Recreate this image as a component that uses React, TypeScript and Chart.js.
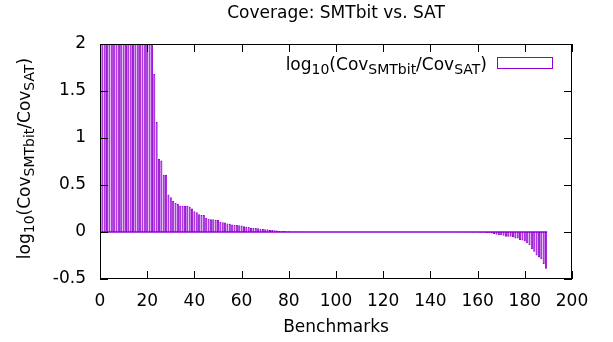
import React, { useEffect, useRef } from "react";
import { Chart, registerables } from "chart.js";

Chart.register(...registerables);

// log10(Cov_SMTbit / Cov_SAT) per benchmark (sorted, descending). Values > 2 are clipped in the plot.
const coverageLog: number[] = [
  3, 3, 3, 3, 3, 3, 3, 3, 3, 3,
  3, 3, 3, 3, 3, 3, 3, 3, 3, 3,
  3, 3, 1.68, 1.17, 0.78, 0.76, 0.61, 0.61, 0.40, 0.37,
  0.33, 0.31, 0.30, 0.28, 0.28, 0.28, 0.28, 0.27, 0.25, 0.22,
  0.21, 0.19, 0.18, 0.18, 0.15, 0.14, 0.135, 0.135, 0.13, 0.13,
  0.11, 0.105, 0.10, 0.09, 0.088, 0.08, 0.075, 0.075, 0.073, 0.07,
  0.06, 0.057, 0.055, 0.045, 0.043, 0.042, 0.04, 0.033, 0.032, 0.03,
  0.028, 0.022, 0.02, 0.018, 0.015, 0.012, 0.01, 0.01, 0.008, 0.007,
  0.006, 0.005, 0.005, 0.004, 0.004, 0.003, 0.003, 0.003, 0.002, 0.002,
  0.002, 0.002, 0.001, 0.001, 0.001, 0.001, 0.001, 0.001, 0.001, 0.001,
  0, 0, 0, 0, 0, 0, 0, 0, 0, 0,
  0, 0, 0, 0, 0, 0, 0, 0, 0, 0,
  0, 0, 0, 0, 0, 0, 0, 0, 0, 0,
  0, 0, 0, 0, 0, 0, 0, 0, 0, 0,
  0, 0, 0, 0, 0, 0, 0, 0, 0, -0.001, -0.001,
  -0.002, -0.002, -0.003, -0.003, -0.004, -0.004, -0.005, -0.005, -0.006, -0.007,
  -0.008, -0.009, -0.01, -0.012, -0.015, -0.02, -0.03, -0.035, -0.035, -0.04,
  -0.05, -0.05, -0.05, -0.055, -0.07, -0.07, -0.085, -0.09, -0.10, -0.12,
  -0.14, -0.18, -0.21, -0.25, -0.27, -0.29, -0.34, -0.39,
];

const xTicks: number[] = [0, 20, 40, 60, 80, 100, 120, 140, 160, 180, 200];
const yTicks: number[] = [-0.5, 0, 0.5, 1, 1.5, 2];

const chartTitle = "Coverage: SMTbit vs. SAT";
const xTitle = "Benchmarks";
type Seg = { t: string; sub?: boolean };
const seriesLabel: Seg[] = [
  { t: "log" },
  { t: "10", sub: true },
  { t: "(Cov" },
  { t: "SMTbit", sub: true },
  { t: "/Cov" },
  { t: "SAT", sub: true },
  { t: ")" },
];

const FAMILY = '"DejaVu Sans", sans-serif';
const MAIN = 17;
const SUB = 14;
const SUBSHIFT = 4;
const PURPLE = "#9400D3";

function drawRich(ctx: CanvasRenderingContext2D, segs: Seg[], x: number, y: number, align: "left" | "right" | "center") {
  const widths = segs.map((s) => {
    ctx.font = `${s.sub ? SUB : MAIN}px ${FAMILY}`;
    return ctx.measureText(s.t).width;
  });
  const total = widths.reduce((a, b) => a + b, 0);
  let cx = align === "right" ? x - total : align === "center" ? x - total / 2 : x;
  ctx.textAlign = "left";
  ctx.textBaseline = "alphabetic";
  segs.forEach((s, i) => {
    ctx.font = `${s.sub ? SUB : MAIN}px ${FAMILY}`;
    ctx.fillText(s.t, cx, y + (s.sub ? SUBSHIFT : 0));
    cx += widths[i];
  });
}

const decorPlugin = {
  id: "gnuplotDecor",
  afterDatasetsDraw(chart: any) {
    const { ctx, chartArea: a, scales } = chart;
    const xs = scales.x;
    const ys = scales.y;
    ctx.save();
    // zero baseline under the boxes
    const y0 = ys.getPixelForValue(0);
    ctx.strokeStyle = PURPLE;
    ctx.lineWidth = 1.5;
    ctx.beginPath();
    ctx.moveTo(xs.getPixelForValue(0.5), y0);
    ctx.lineTo(xs.getPixelForValue(coverageLog.length + 0.5), y0);
    ctx.stroke();
    // frame
    ctx.strokeStyle = "#000";
    ctx.lineWidth = 1;
    ctx.strokeRect(a.left + 0.5, a.top + 0.5, a.right - a.left - 1, a.bottom - a.top - 1);
    const TL = 8;
    ctx.beginPath();
    xTicks.forEach((v) => {
      const px = Math.round(xs.getPixelForValue(v)) + 0.5;
      ctx.moveTo(px, a.bottom);
      ctx.lineTo(px, a.bottom - TL);
      ctx.moveTo(px, a.top);
      ctx.lineTo(px, a.top + TL);
    });
    yTicks.forEach((v) => {
      const py = Math.round(ys.getPixelForValue(v)) + 0.5;
      ctx.moveTo(a.left, py);
      ctx.lineTo(a.left + TL, py);
      ctx.moveTo(a.right, py);
      ctx.lineTo(a.right - TL, py);
    });
    ctx.stroke();
    ctx.restore();
  },
  afterDraw(chart: any) {
    const { ctx, chartArea: a } = chart;
    const cxPlot = (a.left + a.right) / 2;
    ctx.save();
    ctx.fillStyle = "#000";
    ctx.font = `${MAIN}px ${FAMILY}`;
    ctx.textAlign = "center";
    ctx.textBaseline = "middle";
    ctx.fillText(chartTitle, cxPlot, 14);
    ctx.fillText(xTitle, cxPlot, 328);
    // y-axis title (rotated)
    ctx.save();
    ctx.translate(30, (a.top + a.bottom) / 2 - 3);
    ctx.rotate(-Math.PI / 2);
    drawRich(ctx, seriesLabel, 0, 0, "center");
    ctx.restore();
    // legend
    drawRich(ctx, seriesLabel, 487, 70, "right");
    ctx.strokeStyle = PURPLE;
    ctx.lineWidth = 1;
    ctx.strokeRect(497.5, 57.5, 55, 11);
    ctx.restore();
  },
};

export default function App() {
  const ref = useRef<HTMLCanvasElement>(null);
  useEffect(() => {
    if (!ref.current) return;
    const tickFont = { family: FAMILY, size: MAIN };
    const chart = new Chart(ref.current, {
      type: "bar",
      data: {
        datasets: [
          {
            label: "log10(Cov_SMTbit/Cov_SAT)",
            data: coverageLog.map((v, i) => ({ x: i + 1, y: v })),
            backgroundColor: "rgba(148,0,211,0.6)",
            borderColor: PURPLE,
            borderWidth: { left: 0.9, right: 0.9, top: 1, bottom: 1 },
            borderSkipped: false,
            barPercentage: 0.88,
            categoryPercentage: 1,
            grouped: false,
            clip: 0,
          } as any,
        ],
      },
      options: {
        animation: false,
        responsive: false,
        maintainAspectRatio: false,
        layout: { padding: { left: 0, right: 41, top: 44, bottom: 0 } },
        plugins: {
          legend: { display: false },
          title: { display: false },
          tooltip: { enabled: false },
        },
        scales: {
          x: {
            type: "linear",
            min: 0,
            max: 200,
            offset: false,
            grid: { display: false, drawTicks: false },
            border: { display: false },
            afterBuildTicks: (s: any) => {
              s.ticks = xTicks.map((v) => ({ value: v }));
            },
            afterFit: (s: any) => {
              s.height = 63;
            },
            ticks: {
              padding: 12,
              color: "#000",
              font: tickFont,
              maxRotation: 0,
              autoSkip: false,
              callback: (v: any) => String(v),
            },
          },
          y: {
            type: "linear",
            min: -0.5,
            max: 2,
            grid: { display: false, drawTicks: false },
            border: { display: false },
            afterBuildTicks: (s: any) => {
              s.ticks = yTicks.map((v) => ({ value: v }));
            },
            afterFit: (s: any) => {
              s.width = 100;
            },
            ticks: {
              padding: 14,
              color: "#000",
              font: tickFont,
              autoSkip: false,
              callback: (v: any) => String(v),
            },
          },
        },
      } as any,
      plugins: [decorPlugin],
    });
    return () => chart.destroy();
  }, []);
  return (
    <div style={{ position: "absolute", left: 0, top: 0, width: 613, height: 342, background: "#fff" }}>
      <canvas ref={ref} width={613} height={342} style={{ width: 613, height: 342, display: "block" }} />
    </div>
  );
}
